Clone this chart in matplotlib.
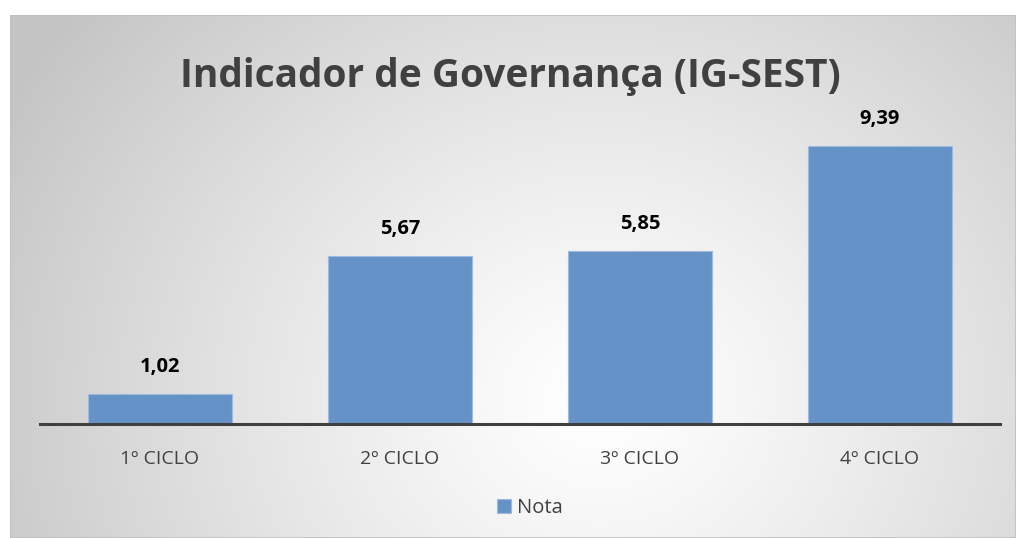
import numpy as np
import matplotlib.pyplot as plt
from matplotlib.patches import Rectangle

ciclos = ["1º CICLO", "2º CICLO", "3º CICLO", "4º CICLO"]
notas = [1.02, 5.67, 5.85, 9.39]
rotulos = ["1,02", "5,67", "5,85", "9,39"]

plt.rcParams['font.family'] = ['Open Sans', 'DejaVu Sans']

W, H = 1016, 538
fig = plt.figure(figsize=(W / 100, H / 100), dpi=100)
fig.patch.set_facecolor("white")

# fundo com gradiente radial (area do grafico)
bg = fig.add_axes([10 / W, 0, 1 - 10 / W, 1 - 15 / H])
bg.set_axis_off()
xx, yy = np.meshgrid(np.linspace(10, W, 400), np.linspace(15, H, 220))
r = np.sqrt(((xx - 600) / 1.0) ** 2 + ((yy - 400) / 0.9) ** 2)
r = np.clip(r / 680, 0, 1)
g = 1.0 - 0.23 * r ** 1.2
bg.imshow(np.dstack([g, g, g]), extent=[0, 1, 0, 1], aspect="auto", origin="upper")
bg.add_patch(Rectangle((0, 0), 1, 1, transform=bg.transAxes, fill=False,
                       edgecolor="#bfbfbf", lw=1.2))

ax = fig.add_axes([40 / W, (H - 424) / H, 960 / W, (424 - 128) / H])
ax.patch.set_alpha(0)
x = np.arange(len(ciclos))
bars = ax.bar(x, notas, width=0.6, color="#6592c6", edgecolor="#9dbbe0",
              linewidth=0.8, label="Nota")
for xi, v, t in zip(x, notas, rotulos):
    ax.text(xi, v + 0.92, t, ha="center", va="center", fontsize=14.5,
            fontweight="bold", color="black", clip_on=False)

ax.set_xlim(-0.5, 3.5)
ax.set_ylim(0, 10)
ax.set_yticks([])
ax.set_xticks(x)
ax.set_xticklabels(ciclos, fontsize=14, color="#404040")
ax.tick_params(axis="x", length=0, pad=19)
for s in ["top", "right", "left"]:
    ax.spines[s].set_visible(False)
ax.spines["bottom"].set_color("#404040")
ax.spines["bottom"].set_linewidth(2.2)

fig.text(510 / W, 1 - 77 / H, "Indicador de Governança (IG-SEST)", ha="center",
         va="center", fontsize=28, fontweight="bold", color="#404040")

fig.legend(handles=[bars], labels=["Nota"], loc="center",
           bbox_to_anchor=(530 / W, 1 - 508 / H), frameon=False, fontsize=14.5,
           handlelength=0.7, handleheight=0.7, handletextpad=0.3,
           labelcolor="#404040")

fig.savefig("out.png", dpi=100)
